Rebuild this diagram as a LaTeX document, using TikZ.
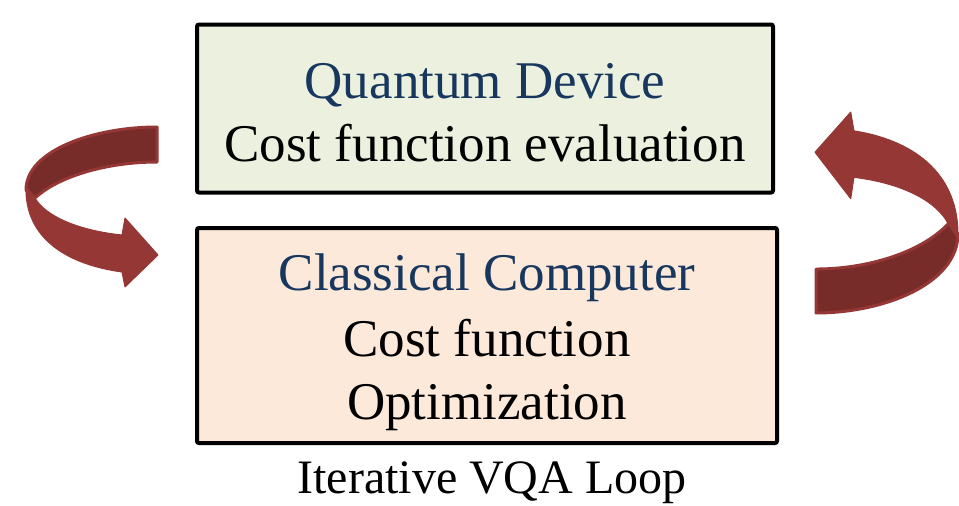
\documentclass[tikz,border=0pt]{standalone}
\usepackage{fontspec}
\setmainfont{Liberation Serif}
\definecolor{qfill}{HTML}{EBF1DE}
\definecolor{cfill}{HTML}{FDE9DA}
\definecolor{titleblue}{HTML}{17375E}
\definecolor{arrowred}{HTML}{953735}
\definecolor{arrowdark}{HTML}{772C2A}
\tikzset{
  panel/.style={draw=black, line width=4pt, rounded corners=2pt, inner sep=0pt},
  heading/.style={anchor=base, text=titleblue, font=\fontsize{53}{60}\selectfont, inner sep=0pt},
  body/.style={anchor=base, text=black, font=\fontsize{53}{60}\selectfont, inner sep=0pt},
  caption/.style={anchor=base, text=black, font=\fontsize{48}{56}\selectfont, inner sep=0pt},
  backband/.style={fill=arrowdark, draw=arrowred, line width=3pt, line join=round},
  frontband/.style={fill=arrowred, draw=arrowred, line width=1pt, line join=round}
}
% curved ribbon arrow, tail at top right, head at bottom right
\newcommand{\ribbonarrow}{%
  \path[backband] (157,127) .. controls (95,127) and (26,150) .. (26,190)
    -- (35,198) .. controls (60,175) and (110,162) .. (157,162) -- cycle;
  \path[frontband] (26,186) .. controls (24,240) and (70,265) .. (122,272)
    -- (125,287) -- (158,255) -- (125,218) -- (122,235)
    .. controls (75,230) and (45,215) .. (35,198) -- cycle;
}
\begin{document}
\begin{tikzpicture}[x=1pt, y=-1pt]
  \useasboundingbox (0,0) rectangle (959,506);

  % the two panels
  \node[panel, fill=qfill, minimum width=576pt, minimum height=168pt] (qd) at (485,108.5) {};
  \node[panel, fill=cfill, minimum width=580pt, minimum height=215pt] (cc) at (487,335.5) {};

  % panel texts
  \node[heading] (qdtitle) at (485,98) {Quantum Device};
  \node[body] (qdtask) at (485,161) {Cost function evaluation};
  \node[heading] (cctitle) at (487,290) {Classical Computer};
  \node[body] (cctask1) at (487,356) {Cost function};
  \node[body] (cctask2) at (487,419) {Optimization};
  \node[caption] (loop) at (492,493) {Iterative VQA Loop};

  % left arrow: from the quantum device down to the classical computer
  \begin{scope}
    \ribbonarrow
  \end{scope}
  % right arrow: from the classical computer back up to the quantum device
  \begin{scope}[shift={(986.1,472.5)}, xscale=-1.083, yscale=-1.256]
    \ribbonarrow
  \end{scope}
\end{tikzpicture}
\end{document}
